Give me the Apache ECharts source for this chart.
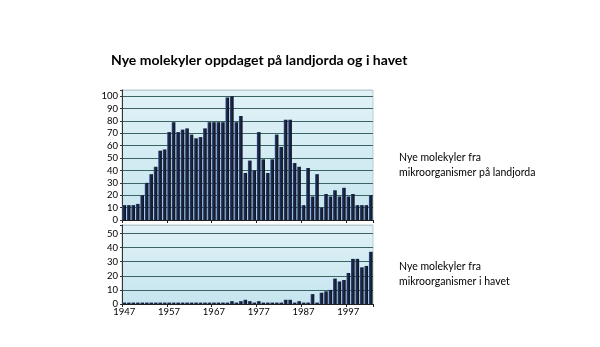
<!DOCTYPE html>
<html>
<head>
<meta charset="utf-8">
<script src="https://cdn.jsdelivr.net/npm/echarts@6/dist/echarts.min.js"></script>
<style>
  html, body { margin: 0; padding: 0; background: #ffffff; }
  #chart { width: 600px; height: 347px; }
</style>
</head>
<body>
<div id="chart"></div>
<script>
// ---- Data ----
const years = ['1947','1948','1949','1950','1951','1952','1953','1954','1955','1956',
  '1957','1958','1959','1960','1961','1962','1963','1964','1965','1966',
  '1967','1968','1969','1970','1971','1972','1973','1974','1975','1976',
  '1977','1978','1979','1980','1981','1982','1983','1984','1985','1986',
  '1987','1988','1989','1990','1991','1992','1993','1994','1995','1996',
  '1997','1998','1999','2000','2001','2002'];

// New molecules from micro-organisms on land
const landValues = [12,12,12,13,20,30,37,43,56,57,
  71,79,71,73,74,69,66,67,74,79,
  79,79,79,99,100,79,84,38,48,40,
  71,49,38,49,69,59,81,81,46,43,
  12,42,19,37,10,21,19,24,19,26,
  19,21,12,12,12,20];

// New molecules from micro-organisms in the sea
const seaValues = [1,1,1,1,1,1,1,1,1,1,
  1,1,1,1,1,1,1,1,1,1,
  1,1,1,1,2,1,2,3,2,1,
  2,1,1,1,1,1,3,3,1,2,
  1,1,7,1,8,9,10,18,16,17,
  22,32,32,26,27,37];

const topTicks = [0,10,20,30,40,50,60,70,80,90,100];
const bottomTicks = [0,10,20,30,40,50];

const titleText = 'Nye molekyler oppdaget på landjorda og i havet';
const landLabel = 'Nye molekyler fra\nmikroorganismer på landjorda';
const seaLabel = 'Nye molekyler fra\nmikroorganismer i havet';

// ---- Styles ----
const FONT = "'Lato', 'Open Sans', sans-serif";
const wallBg = new echarts.graphic.LinearGradient(0, 0, 0, 1, [
  { offset: 0, color: '#e0f2f7' },
  { offset: 1, color: '#c6e5ee' }
]);
const barColor = new echarts.graphic.LinearGradient(0, 0, 1, 0, [
  { offset: 0, color: '#2f5096' },
  { offset: 0.35, color: '#1c2846' },
  { offset: 1, color: '#0c1220' }
]);
const GRIDLINE = '#3a6464';

function lineColors(n) {
  const arr = [];
  for (let i = 0; i < n; i++) arr.push(GRIDLINE);
  arr.push('#b9cdd1');
  return arr;
}

const chart = echarts.init(document.getElementById('chart'), null, { renderer: 'canvas' });

const option = {
  animation: false,
  backgroundColor: '#ffffff',
  title: [
    {
      text: titleText, left: 106, top: 48,
      textStyle: { fontFamily: FONT, fontSize: 14, fontWeight: 'bold', color: '#000' }
    },
    {
      text: landLabel, left: 394, top: 145,
      textStyle: { fontFamily: FONT, fontSize: 10.5, fontWeight: 'normal', color: '#000', lineHeight: 15 }
    },
    {
      text: seaLabel, left: 394, top: 254,
      textStyle: { fontFamily: FONT, fontSize: 10.5, fontWeight: 'normal', color: '#000', lineHeight: 15 }
    }
  ],
  grid: [
    { left: 122, right: 227, top: 90, height: 130, show: true, backgroundColor: wallBg, borderColor: '#b9cdd1', borderWidth: 1 },
    { left: 122, right: 227, top: 225, height: 79, show: true, backgroundColor: wallBg, borderColor: '#b9cdd1', borderWidth: 1 }
  ],
  xAxis: [
    {
      type: 'category', gridIndex: 0, data: years,
      axisLine: { lineStyle: { color: '#222', width: 1 } },
      axisTick: { show: true, interval: 9, length: 3, lineStyle: { color: '#222' } },
      axisLabel: { show: false }
    },
    {
      type: 'category', gridIndex: 1, data: years,
      axisLine: { lineStyle: { color: '#222', width: 1 } },
      axisTick: { show: true, interval: 9, length: 3, lineStyle: { color: '#222' } },
      axisLabel: { interval: 9, margin: 3, fontFamily: FONT, fontSize: 9.5, color: '#000' }
    }
  ],
  yAxis: [
    {
      type: 'value', gridIndex: 0, min: 0, max: 105, interval: 10,
      axisLine: { show: true, lineStyle: { color: '#333' } },
      axisTick: { show: true, length: 2, lineStyle: { color: '#333' } },
      axisLabel: {
        margin: 4, fontFamily: FONT, fontSize: 9.5, color: '#000',
        formatter: v => (topTicks.indexOf(v) >= 0 ? String(v) : '')
      },
      splitLine: { show: true, lineStyle: { color: lineColors(topTicks.length), width: 1 } }
    },
    {
      type: 'value', gridIndex: 1, min: 0, max: 56, interval: 10,
      axisLine: { show: true, lineStyle: { color: '#333' } },
      axisTick: { show: true, length: 2, lineStyle: { color: '#333' } },
      axisLabel: {
        margin: 4, fontFamily: FONT, fontSize: 9.5, color: '#000',
        formatter: v => (bottomTicks.indexOf(v) >= 0 ? String(v) : '')
      },
      splitLine: { show: true, lineStyle: { color: lineColors(bottomTicks.length), width: 1 } }
    }
  ],
  series: [
    {
      name: 'Land', type: 'bar', xAxisIndex: 0, yAxisIndex: 0,
      data: landValues, barCategoryGap: '18%',
      itemStyle: { color: barColor }
    },
    {
      name: 'Hav', type: 'bar', xAxisIndex: 1, yAxisIndex: 1,
      data: seaValues, barCategoryGap: '18%',
      itemStyle: { color: barColor }
    }
  ]
};

chart.setOption(option);
</script>
</body>
</html>
